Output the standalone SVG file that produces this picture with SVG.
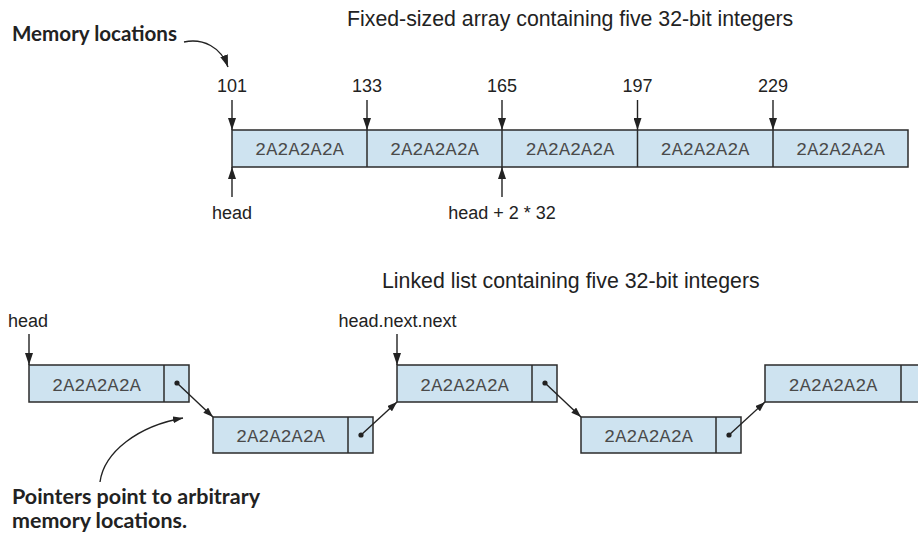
<svg xmlns="http://www.w3.org/2000/svg" width="918" height="535" viewBox="0 0 918 535">
<style>
.bg{fill:#ffffff}
.cell{fill:#cee3f0;stroke:#2b2b2b;stroke-width:1.5}
.div{stroke:#2b2b2b;stroke-width:1.5}
.val{font-family:"Liberation Mono","Courier New",monospace;font-size:18.5px;fill:#4a4a4a;text-anchor:middle}
.lbl{font-family:"Liberation Sans",Arial,sans-serif;font-size:18px;fill:#222}
.ttl{font-family:"Liberation Sans",Arial,sans-serif;font-size:21.3px;fill:#222}
.note{font-family:Lato,"Open Sans",sans-serif;font-weight:bold;font-size:21px;fill:#222}
.ln{stroke:#222;stroke-width:1.4;fill:none}
.dot{fill:#222}
</style>
<defs>
<marker id="ah" viewBox="0 0 12 8" refX="12" refY="4" markerWidth="12" markerHeight="8" markerUnits="userSpaceOnUse" orient="auto"><path d="M0,0 L12,4 L0,8 z" fill="#222"/></marker>
<marker id="ahs" viewBox="0 0 10 7" refX="10" refY="3.5" markerWidth="10" markerHeight="7" markerUnits="userSpaceOnUse" orient="auto"><path d="M0,0 L10,3.5 L0,7 z" fill="#222"/></marker>
</defs>
<rect class="bg" x="0" y="0" width="918" height="535"/>

<text class="ttl" x="347" y="26">Fixed-sized array containing five 32-bit integers</text>
<text class="note" x="12" y="41" textLength="165" lengthAdjust="spacingAndGlyphs">Memory locations</text>

<g id="array">
<rect class="cell" x="232" y="130" width="676" height="37"/>
<line class="div" x1="367" y1="130" x2="367" y2="167"/>
<line class="div" x1="502" y1="130" x2="502" y2="167"/>
<line class="div" x1="637.5" y1="130" x2="637.5" y2="167"/>
<line class="div" x1="773" y1="130" x2="773" y2="167"/>
<text class="val" x="299.5" y="155">2A2A2A2A</text>
<text class="val" x="434.5" y="155">2A2A2A2A</text>
<text class="val" x="570" y="155">2A2A2A2A</text>
<text class="val" x="705" y="155">2A2A2A2A</text>
<text class="val" x="840.5" y="155">2A2A2A2A</text>
</g>

<g id="addr-labels">
<text class="lbl" x="232" y="92" text-anchor="middle">101</text>
<text class="lbl" x="367" y="92" text-anchor="middle">133</text>
<text class="lbl" x="502" y="92" text-anchor="middle">165</text>
<text class="lbl" x="637.5" y="92" text-anchor="middle">197</text>
<text class="lbl" x="773" y="92" text-anchor="middle">229</text>
<text class="lbl" x="232" y="219" text-anchor="middle">head</text>
<text class="lbl" x="502" y="219" text-anchor="middle">head + 2 * 32</text>
</g>

<text class="ttl" x="382" y="288">Linked list containing five 32-bit integers</text>
<text class="lbl" x="8" y="327">head</text>
<text class="lbl" x="397.5" y="327" text-anchor="middle">head.next.next</text>

<g id="node1">
<rect class="cell" x="29" y="365" width="160" height="37"/>
<line class="div" x1="164" y1="365" x2="164" y2="402"/>
<text class="val" x="96.5" y="391">2A2A2A2A</text>
<circle class="dot" cx="177" cy="383" r="2.6"/>
</g>
<g id="node2">
<rect class="cell" x="213" y="417" width="160" height="36"/>
<line class="div" x1="348" y1="417" x2="348" y2="453"/>
<text class="val" x="280.5" y="442">2A2A2A2A</text>
<circle class="dot" cx="361" cy="435" r="2.6"/>
</g>
<g id="node3">
<rect class="cell" x="397" y="365" width="160" height="37"/>
<line class="div" x1="532" y1="365" x2="532" y2="402"/>
<text class="val" x="464.5" y="391">2A2A2A2A</text>
<circle class="dot" cx="545" cy="383" r="2.6"/>
</g>
<g id="node4">
<rect class="cell" x="581" y="417" width="160" height="36"/>
<line class="div" x1="716" y1="417" x2="716" y2="453"/>
<text class="val" x="648.5" y="442">2A2A2A2A</text>
<circle class="dot" cx="729" cy="435" r="2.6"/>
</g>
<g id="node5">
<rect class="cell" x="765" y="365" width="162" height="37"/>
<line class="div" x1="901" y1="365" x2="901" y2="402"/>
<text class="val" x="833" y="391">2A2A2A2A</text>
</g>

<text class="note" x="12" y="504" textLength="248" lengthAdjust="spacingAndGlyphs">Pointers point to arbitrary</text>
<text class="note" x="12" y="528" textLength="175" lengthAdjust="spacingAndGlyphs">memory locations.</text>

<g id="connectors">
<line class="ln" x1="232" y1="100" x2="232" y2="130" marker-end="url(#ah)"/>
<line class="ln" x1="367" y1="100" x2="367" y2="130" marker-end="url(#ah)"/>
<line class="ln" x1="502" y1="100" x2="502" y2="130" marker-end="url(#ah)"/>
<line class="ln" x1="637.5" y1="100" x2="637.5" y2="130" marker-end="url(#ah)"/>
<line class="ln" x1="773" y1="100" x2="773" y2="130" marker-end="url(#ah)"/>
<line class="ln" x1="232" y1="197" x2="232" y2="167" marker-end="url(#ah)"/>
<line class="ln" x1="502" y1="197" x2="502" y2="167" marker-end="url(#ah)"/>
<path class="ln" d="M184,42 C203,38 221,47 228,67" marker-end="url(#ah)"/>
<line class="ln" x1="29" y1="334" x2="29" y2="365" marker-end="url(#ah)"/>
<line class="ln" x1="397" y1="334" x2="397" y2="365" marker-end="url(#ah)"/>
<line class="ln" x1="177" y1="383" x2="213" y2="417" marker-end="url(#ahs)"/>
<line class="ln" x1="361" y1="435" x2="397" y2="402" marker-end="url(#ahs)"/>
<line class="ln" x1="545" y1="383" x2="581" y2="417" marker-end="url(#ahs)"/>
<line class="ln" x1="729" y1="435" x2="765" y2="402" marker-end="url(#ahs)"/>
<path class="ln" d="M100,482 C104,452 138,426 183,418" marker-end="url(#ahs)"/>
</g>
</svg>
